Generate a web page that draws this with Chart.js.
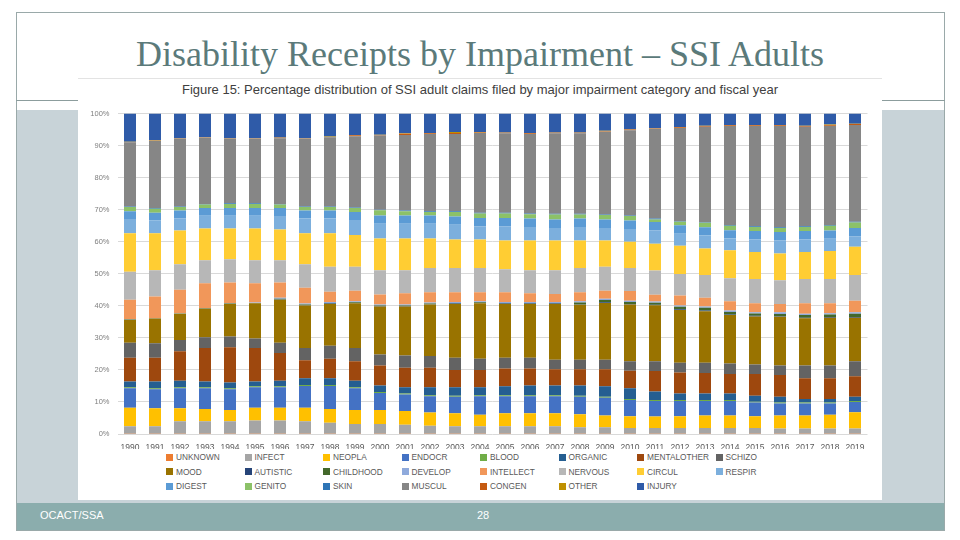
<!DOCTYPE html>
<html lang="en">
<head>
  <meta charset="UTF-8" />
  <title>Disability Receipts by Impairment – SSI Adults</title>
  <script src="https://cdn.jsdelivr.net/npm/chart.js"></script>
  <style>
    html, body { margin: 0; padding: 0; }
    body {
      width: 960px; height: 540px; position: relative; overflow: hidden;
      background: #fff; font-family: "Liberation Sans", Arial, sans-serif;
    }
    .frame { position: absolute; left: 16px; top: 12px; width: 929px; height: 519px;
      border: 1px solid #9aa9a9; box-sizing: border-box; }
    .rule { position: absolute; left: 16px; top: 100px; width: 929px; height: 1px; background: #8c9d9d; }
    .band { position: absolute; left: 17px; top: 110px; width: 927px; height: 393px; background: #c8d3d8; }
    .footer { position: absolute; left: 17px; top: 503px; width: 927px; height: 27px; background: #8badad; }
    .footer span { position: absolute; top: 6px; color: #fff; font-size: 11px; }
    h1 {
      position: absolute; left: 0; top: 33px; width: 960px; margin: 0;
      text-align: center; font-family: "Liberation Serif", "Times New Roman", serif;
      font-weight: normal; font-size: 36px; color: #5b7a7a;
    }
    .figure { position: absolute; left: 78px; top: 78px; width: 804px; height: 422px; background: #fff;
      border-top: 1px solid #e3e3e3; box-sizing: border-box; }
    .figure .ftitle { position: absolute; left: 0; top: 3px; width: 804px; text-align: center;
      font-size: 13px; color: #404040; }
    .plot { position: absolute; left: 0; top: 22px; width: 804px; height: 348px; }
    #legend { position: absolute; left: 88px; top: 373px; width: 640px; }
    .item { position: absolute; font-size: 8.3px; color: #595959; white-space: nowrap; line-height: 11px; }
    .item i { display: inline-block; width: 7px; height: 7px; margin-right: 3px; vertical-align: -0.5px; }
  </style>
</head>
<body>
  <div class="frame"></div>
  <div class="rule"></div>
  <div class="band"></div>
  <div class="footer"><span style="left:23px">OCACT/SSA</span><span style="left:460px">28</span></div>
  <h1>Disability Receipts by Impairment – SSI Adults</h1>

  <div class="figure">
    <div class="ftitle">Figure 15: Percentage distribution of SSI adult claims filed by major impairment category and fiscal year</div>
    <div class="plot"><canvas id="chart"></canvas></div>
    <div id="legend"></div>
  </div>

  <script>
    const years = ['1990','1991','1992','1993','1994','1995','1996','1997','1998','1999',
                   '2000','2001','2002','2003','2004','2005','2006','2007','2008','2009',
                   '2010','2011','2012','2013','2014','2015','2016','2017','2018','2019'];

    // shares in percent (bottom of the stack first)
    const unknown     = [0.1,0.1,0.1,0.1,0.1,0.1,0.1,0.1,0.1,0.1,0.1,0.1,0.1,0.1,0.1,0.1,0.1,0.1,0.1,0.1,0.1,0.1,0.1,0.1,0.1,0.1,0.1,0.1,0.1,0.1];
    const infect      = [2.3,2.3,3.9,3.9,3.9,4.1,4.1,3.9,3.4,3.0,3.0,2.8,2.5,2.3,2.3,2.3,2.3,2.3,2.0,2.0,1.8,1.8,1.8,1.8,1.8,1.8,1.6,1.6,1.6,1.6];
    const neopla      = [5.8,5.6,4.0,3.8,3.5,4.0,4.0,4.2,4.3,4.4,4.4,4.3,4.1,4.1,3.6,4.1,4.1,4.1,4.1,3.7,3.6,3.6,3.6,3.9,3.9,3.6,4.1,4.1,4.3,5.1];
    const endocr      = [6.1,6.0,6.3,6.5,6.5,6.4,6.4,6.8,7.2,6.8,5.3,5.1,5.1,5.1,5.8,5.3,5.3,5.3,5.4,5.5,5.1,4.8,4.8,4.5,4.5,4.3,3.7,3.7,3.5,3.2];
    const blood       = [0.3,0.3,0.3,0.3,0.3,0.3,0.3,0.3,0.3,0.3,0.3,0.3,0.3,0.3,0.3,0.3,0.3,0.3,0.3,0.3,0.3,0.3,0.3,0.3,0.3,0.3,0.3,0.3,0.3,0.3];
    const organic     = [1.8,2.1,2.0,1.8,1.8,1.5,1.7,2.1,2.1,2.0,2.0,2.0,2.5,2.7,2.5,2.8,3.0,3.0,3.2,3.3,3.4,2.7,2.0,2.0,2.0,1.8,1.8,1.1,1.1,1.3];
    const mentalother = [7.4,7.4,9.2,10.4,11.0,10.4,8.7,5.6,6.1,6.1,6.3,6.1,6.1,5.4,5.4,5.5,5.3,5.1,5.1,5.3,5.4,6.4,6.6,6.4,6.1,6.8,6.8,6.5,6.5,6.4];
    const schizo      = [4.7,4.5,3.5,3.4,3.3,3.0,3.2,3.8,4.0,4.1,3.4,3.8,3.6,3.8,3.5,3.4,3.4,3.0,3.0,3.0,3.0,3.0,3.0,3.2,3.3,3.0,3.0,4.0,4.0,4.7];
    const mood        = [7.1,7.7,8.2,8.9,10.2,11.0,13.4,13.3,13.1,14.0,15.0,15.3,16.1,16.8,17.3,16.8,16.8,17.4,17.1,17.7,17.7,17.5,16.5,16.1,15.1,15.0,15.2,14.7,14.9,13.6];
    const autistic    = [0.0,0.0,0.0,0.0,0.0,0.0,0.1,0.1,0.1,0.1,0.1,0.1,0.1,0.1,0.1,0.1,0.1,0.1,0.1,0.2,0.2,0.2,0.2,0.2,0.2,0.2,0.2,0.2,0.2,0.2];
    const childhood   = [0.1,0.1,0.1,0.1,0.1,0.1,0.2,0.2,0.2,0.2,0.2,0.2,0.2,0.2,0.2,0.2,0.2,0.2,0.6,0.7,0.6,0.6,0.8,0.9,0.8,0.7,0.7,0.8,0.8,1.0];
    const develop     = [0.1,0.1,0.1,0.1,0.1,0.1,0.3,0.3,0.3,0.3,0.3,0.3,0.3,0.3,0.3,0.3,0.3,0.3,0.4,0.4,0.4,0.4,0.4,0.4,0.4,0.4,0.5,0.4,0.4,0.5];
    const intellect   = [6.1,6.7,7.3,7.7,6.5,6.0,4.8,4.9,3.2,3.3,3.1,3.5,3.2,3.0,2.8,3.0,2.7,2.5,2.8,2.5,3.0,2.1,3.1,2.7,2.9,2.8,2.6,3.3,3.1,3.6];
    const nervous     = [8.7,8.2,8.0,7.2,7.2,7.2,6.9,7.4,7.8,7.5,7.6,7.2,7.6,7.6,7.6,7.2,7.2,7.4,7.6,7.5,7.2,7.6,6.7,7.1,7.2,7.6,7.4,7.6,7.6,8.0];
    const circul      = [12.0,11.5,10.5,9.9,9.6,9.9,9.6,9.6,10.4,9.9,9.9,9.9,9.2,8.9,8.9,9.0,9.3,9.3,8.6,8.2,8.2,8.3,8.8,8.3,8.7,8.4,8.4,8.4,8.7,8.8];
    const respir      = [4.5,4.0,3.8,4.0,4.0,4.0,4.2,4.6,4.6,4.7,4.6,4.6,4.6,4.6,4.1,4.4,4.2,3.9,4.2,3.9,4.0,4.2,3.8,4.0,3.7,3.9,4.1,3.9,3.8,3.3];
    const digest      = [2.4,2.4,2.4,2.4,2.4,2.4,2.5,2.5,2.5,2.5,2.6,2.6,2.6,2.6,2.6,2.6,2.6,2.6,2.6,2.6,2.6,2.6,2.6,2.6,2.6,2.6,2.6,2.6,2.6,2.6];
    const genito      = [1.3,1.3,1.1,1.1,1.3,1.3,1.1,1.1,1.1,1.2,1.6,1.3,1.1,1.4,1.4,1.4,1.4,1.6,1.3,1.4,1.4,0.8,1.1,1.4,1.4,1.3,1.2,1.3,1.5,1.7];
    const skin        = [0.2,0.2,0.2,0.2,0.2,0.2,0.2,0.2,0.2,0.2,0.2,0.2,0.2,0.2,0.2,0.2,0.2,0.2,0.2,0.2,0.2,0.3,0.2,0.2,0.2,0.2,0.3,0.2,0.2,0.2];
    const muscul      = [20.0,21.0,21.1,20.6,20.1,20.1,20.5,21.1,21.6,22.2,23.1,23.6,24.1,24.1,24.9,24.8,24.8,25.1,25.1,25.8,26.6,28.0,29.1,29.8,30.9,31.3,31.6,31.1,30.9,30.2];
    const congen      = [0.1,0.1,0.1,0.1,0.1,0.1,0.1,0.1,0.1,0.3,0.2,0.4,0.2,0.3,0.2,0.2,0.2,0.2,0.2,0.2,0.2,0.2,0.2,0.2,0.2,0.2,0.2,0.2,0.2,0.3];
    const other       = [0.1,0.1,0.1,0.1,0.1,0.1,0.1,0.1,0.1,0.1,0.1,0.1,0.1,0.3,0.1,0.1,0.1,0.1,0.1,0.1,0.1,0.1,0.1,0.1,0.1,0.1,0.1,0.1,0.3,0.1];
    const injury      = [8.8,8.3,7.7,7.4,7.7,7.7,7.5,7.7,7.2,6.7,6.6,6.2,6.1,5.8,5.8,5.9,6.1,5.9,5.9,5.4,4.9,4.5,4.2,3.8,3.6,3.6,3.6,3.8,3.4,3.2];

    const series = [
      ['UNKNOWN', unknown, '#ed7d31'], ['INFECT', infect, '#a5a5a5'], ['NEOPLA', neopla, '#ffc000'],
      ['ENDOCR', endocr, '#4472c4'], ['BLOOD', blood, '#70ad47'], ['ORGANIC', organic, '#255e91'],
      ['MENTALOTHER', mentalother, '#9e480e'], ['SCHIZO', schizo, '#636363'], ['MOOD', mood, '#997300'],
      ['AUTISTIC', autistic, '#264478'], ['CHILDHOOD', childhood, '#43682b'], ['DEVELOP', develop, '#8faadc'],
      ['INTELLECT', intellect, '#f1975a'], ['NERVOUS', nervous, '#b7b7b7'], ['CIRCUL', circul, '#ffcd33'],
      ['RESPIR', respir, '#7cafdd'], ['DIGEST', digest, '#5b9bd5'], ['GENITO', genito, '#8cc168'],
      ['SKIN', skin, '#2e75b6'], ['MUSCUL', muscul, '#868686'], ['CONGEN', congen, '#c55a11'],
      ['OTHER', other, '#bf9000'], ['INJURY', injury, '#2f5ba8']
    ];

    // each year is shown as a 100% bar
    const totals = years.map((y, i) => series.reduce((s, d) => s + d[1][i], 0));

    const chart = new Chart(document.getElementById('chart'), {
      type: 'bar',
      data: {
        labels: years,
        datasets: series.map(([name, vals, color]) => ({
          label: name,
          data: vals.map((v, i) => v / totals[i] * 100),
          backgroundColor: color,
          borderWidth: 0,
          barPercentage: 0.48,
          categoryPercentage: 1
        }))
      },
      options: {
        responsive: true,
        maintainAspectRatio: false,
        animation: false,
        layout: { padding: { top: 7, right: 14.5, left: 0, bottom: 0 } },
        plugins: { legend: { display: false }, tooltip: { enabled: false } },
        scales: {
          x: {
            stacked: true,
            grid: { display: false },
            border: { display: false },
            ticks: { color: '#595959', font: { size: 8.5 }, padding: 1, maxRotation: 0, autoSkip: false },
            afterFit: s => { s.height = 15; }
          },
          y: {
            stacked: true,
            min: 0, max: 100,
            grid: { color: '#d9d9d9', drawTicks: false },
            border: { display: false },
            ticks: { stepSize: 10, color: '#7f7f7f', font: { size: 7.5 }, padding: 8, callback: v => v + '%' },
            afterFit: s => { s.width = 39.5; }
          }
        }
      }
    });

    // legend: 8 fixed columns, like the original figure
    const legendEl = document.getElementById('legend');
    chart.data.datasets.forEach((ds, i) => {
      const el = document.createElement('div');
      el.className = 'item';
      el.style.left = (i % 8) * 78.5 + 'px';
      el.style.top = Math.floor(i / 8) * 14.5 + 'px';
      el.innerHTML = '<i style="background:' + ds.backgroundColor + '"></i>' + ds.label;
      legendEl.appendChild(el);
    });
  </script>
</body>
</html>
